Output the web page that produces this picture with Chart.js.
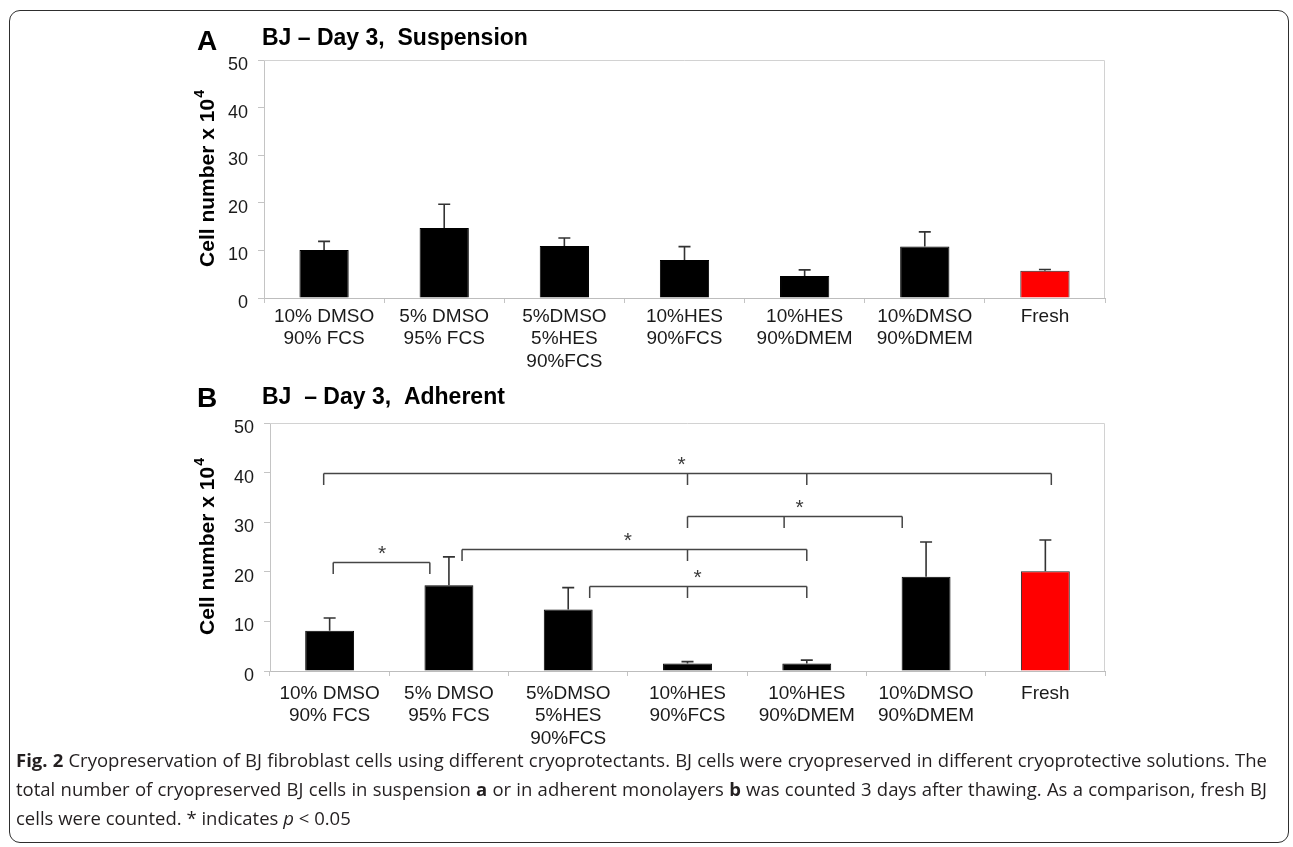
<!DOCTYPE html>
<html>
<head>
<meta charset="utf-8">
<title>Cryopreservation of BJ fibroblast cells</title>
<script src="https://cdn.jsdelivr.net/npm/chart.js@4.4.0/dist/chart.umd.min.js"></script>
<style>
  html, body { margin: 0; padding: 0; background: #fff; }
  body { width: 1293px; height: 847px; position: relative; overflow: hidden; }
  #frame {
    position: absolute; left: 9px; top: 10px; width: 1280px; height: 833px;
    border: 1.6px solid #2e2e2e; border-radius: 11px; box-sizing: border-box;
  }
  .panel { position: absolute; left: 150px; width: 980px; }
  #wrapA { top: 15px; height: 370px; }
  #wrapB { top: 380px; height: 400px; }
  #caption {
    position: absolute; left: 16px; top: 746px;
    font-family: "Open Sans", "Noto Sans", sans-serif; font-size: 17.5px;
    line-height: 29px; color: #231f20; transform-origin: 0 0; white-space: nowrap;
  }
  #caption .just { text-align: justify; text-align-last: justify; }
</style>
</head>
<body>
<div id="frame"></div>
<div class="panel" id="wrapA"><canvas id="chartA" width="980" height="370"></canvas></div>
<div class="panel" id="wrapB"><canvas id="chartB" width="980" height="400"></canvas></div>
<div id="caption">
  <div class="just"><span id="firstSpan"><b>Fig. 2</b> Cryopreservation of BJ fibroblast cells using different cryoprotectants. BJ cells were cryopreserved in different cryoprotective solutions. The</span></div>
  <div class="just"><span>total number of cryopreserved BJ cells in suspension <b>a</b> or in adherent monolayers <b>b</b> was counted 3 days after thawing. As a comparison, fresh BJ</span></div>
  <div><span>cells were counted. * indicates <i>p</i> &lt; 0.05</span></div>
</div>
<script>
// Treatment groups (x-axis categories)
const categories = [
  ['10% DMSO', '90% FCS'],
  ['5% DMSO', '95% FCS'],
  ['5%DMSO', '5%HES', '90%FCS'],
  ['10%HES', '90%FCS'],
  ['10%HES', '90%DMEM'],
  ['10%DMSO', '90%DMEM'],
  'Fresh'
];

// Cell number (x 10^4), day 3 after thawing
const suspensionMean = [10.1, 14.7, 10.9, 8.0, 4.6, 10.8, 5.7];
const suspensionSD   = [1.8, 5.0, 1.7, 2.8, 1.3, 3.1, 0.3];
const adherentMean   = [8.1, 17.3, 12.4, 1.5, 1.5, 19.0, 20.1];
const adherentSD     = [2.6, 5.7, 4.4, 0.4, 0.7, 7.0, 6.3];

const yTicks = [0, 10, 20, 30, 40, 50];

// Significant comparisons (p < 0.05) in the adherent panel:
// bracket level (cell number), span in category units, leg positions, star position
const adherentBrackets = [
  { level: 40.0, from: -0.05, to: 6.05, legs: [-0.05, 3, 4, 6.05], star: 2.95 },
  { level: 31.2, from: 3.0,  to: 4.8,  legs: [3.0, 3.81, 4.8],     star: 3.94 },
  { level: 24.5, from: 1.11, to: 4.0,  legs: [1.11, 3.0, 4.0],     star: 2.50 },
  { level: 17.2, from: 2.18, to: 4.0,  legs: [2.18, 3.0, 4.0],     star: 3.085 },
  { level: 22.0, from: 0.03, to: 0.84, legs: [0.03, 0.84],         star: 0.44 }
];

const barColors = ['#000000', '#000000', '#000000', '#000000', '#000000', '#000000', '#ff0000'];
const barBorders = ['#000000', '#000000', '#000000', '#000000', '#000000', '#000000', '#262626'];

const FONT = '"Liberation Sans", Arial, Helvetica, sans-serif';

// Draws panel letter, title, y-axis title, plot frame, error bars and significance brackets
const panelDecor = {
  id: 'panelDecor',
  afterDatasetsDraw(chart, args, opts) {
    const ctx = chart.ctx;
    const y = chart.scales.y;
    const meta = chart.getDatasetMeta(0);
    const means = chart.data.datasets[0].data;
    ctx.save();
    ctx.strokeStyle = '#333';
    ctx.lineWidth = 1.6;
    opts.sd.forEach((sd, i) => {
      const bx = meta.data[i].x;
      const y0 = y.getPixelForValue(means[i]);
      const y1 = y.getPixelForValue(means[i] + sd);
      ctx.beginPath();
      ctx.moveTo(bx, y0);
      ctx.lineTo(bx, y1);
      ctx.moveTo(bx - 6, y1);
      ctx.lineTo(bx + 6, y1);
      ctx.stroke();
    });
    ctx.restore();
  },
  afterDraw(chart, args, opts) {
    const ctx = chart.ctx;
    const a = chart.chartArea;
    const x = chart.scales.x;
    const y = chart.scales.y;
    ctx.save();

    // light frame around the plot area (top and right sides)
    ctx.strokeStyle = '#d2d2d2';
    ctx.lineWidth = 1;
    ctx.beginPath();
    ctx.moveTo(a.left, a.top + 0.5);
    ctx.lineTo(a.right - 0.5, a.top + 0.5);
    ctx.lineTo(a.right - 0.5, a.bottom);
    ctx.stroke();

    // panel letter and title
    ctx.fillStyle = '#000';
    ctx.textBaseline = 'alphabetic';
    ctx.textAlign = 'left';
    ctx.font = 'bold 28px ' + FONT;
    ctx.fillText(opts.letter, 47, opts.letterBase);
    ctx.font = 'bold 23px ' + FONT;
    ctx.fillText(opts.title, 112, opts.titleBase);

    // y-axis title with superscript exponent
    ctx.save();
    const cy = (a.top + a.bottom) / 2;
    ctx.translate(57, cy);
    ctx.rotate(-Math.PI / 2);
    const main = 'Cell number x 10';
    ctx.font = 'bold 21px ' + FONT;
    const wMain = ctx.measureText(main).width;
    ctx.font = 'bold 14px ' + FONT;
    const wSup = ctx.measureText('4').width;
    const start = -(wMain + wSup) / 2;
    ctx.textBaseline = 'middle';
    ctx.font = 'bold 21px ' + FONT;
    ctx.fillText(main, start, 1);
    ctx.font = 'bold 14px ' + FONT;
    ctx.fillText('4', start + wMain + 1, -7);
    ctx.restore();

    // significance brackets
    if (opts.brackets) {
      ctx.strokeStyle = '#454545';
      ctx.lineWidth = 1.5;
      ctx.fillStyle = '#3a3a3a';
      ctx.font = '21px ' + FONT;
      ctx.textAlign = 'center';
      ctx.textBaseline = 'alphabetic';
      const m = ctx.measureText('*');
      const half = (m.actualBoundingBoxAscent - m.actualBoundingBoxDescent) / 2;
      opts.brackets.forEach(b => {
        const ly = Math.round(y.getPixelForValue(b.level)) + 0.5;
        ctx.beginPath();
        ctx.moveTo(x.getPixelForValue(b.from), ly);
        ctx.lineTo(x.getPixelForValue(b.to), ly);
        b.legs.forEach(l => {
          const lx = x.getPixelForValue(l);
          ctx.moveTo(lx, ly);
          ctx.lineTo(lx, ly + 11.5);
        });
        ctx.stroke();
        ctx.fillText('*', x.getPixelForValue(b.star), ly - 13 + half);
      });
    }
    ctx.restore();
  }
};

function makeChart(id, means, sd, opts) {
  return new Chart(document.getElementById(id), {
    type: 'bar',
    data: {
      labels: categories,
      datasets: [{
        data: means,
        backgroundColor: barColors,
        borderColor: barBorders,
        borderWidth: 1,
        categoryPercentage: 1.0,
        barPercentage: 0.41
      }]
    },
    options: {
      responsive: false,
      animation: false,
      devicePixelRatio: 1,
      layout: { padding: { left: 0, right: 25, top: opts.padTop, bottom: 0 } },
      plugins: {
        legend: { display: false },
        tooltip: { enabled: false },
        panelDecor: Object.assign({ sd: sd }, opts.decor)
      },
      scales: {
        x: {
          grid: { display: true, drawOnChartArea: false, offset: true, tickLength: 5, color: '#c4c4c4' },
          border: { color: '#bdbdbd', width: 1 },
          ticks: {
            autoSkip: false, maxRotation: 0, minRotation: 0,
            padding: opts.xPad, color: '#1a1a1a',
            font: { family: FONT, size: 19, lineHeight: 1.2 }
          },
          afterFit(s) { s.height = opts.xHeight; }
        },
        y: {
          min: 0, max: 50,
          afterBuildTicks(s) { s.ticks = yTicks.map(v => ({ value: v })); },
          grid: { display: true, drawOnChartArea: false, tickLength: 6, color: '#c4c4c4' },
          border: { color: '#c4c4c4', width: 1 },
          ticks: {
            padding: 10, labelOffset: 5, color: '#1a1a1a',
            font: { family: FONT, size: 18 }
          },
          afterFit(s) { s.width = opts.yWidth; }
        }
      }
    },
    plugins: [panelDecor]
  });
}

makeChart('chartA', suspensionMean, suspensionSD, {
  padTop: 45, xHeight: 87, yWidth: 114, xPad: 2,
  decor: { letter: 'A', letterBase: 35, title: 'BJ \u2013 Day 3,  Suspension', titleBase: 30 }
});

makeChart('chartB', adherentMean, adherentSD, {
  padTop: 43, xHeight: 109, yWidth: 120, xPad: 6,
  decor: { letter: 'B', letterBase: 27, title: 'BJ  \u2013 Day 3,  Adherent', titleBase: 24, brackets: adherentBrackets }
});

// Fit the caption block to the printed measure: condensed face, first two lines justified
(function fitCaption() {
  const cap = document.getElementById('caption');
  const first = document.getElementById('firstSpan');
  const natural = first.getBoundingClientRect().width;
  const target = 1251;
  const s = (target - 6) / natural;
  cap.style.transform = 'scaleX(' + s + ')';
  cap.style.width = (target / s) + 'px';
})();
</script>
</body>
</html>
